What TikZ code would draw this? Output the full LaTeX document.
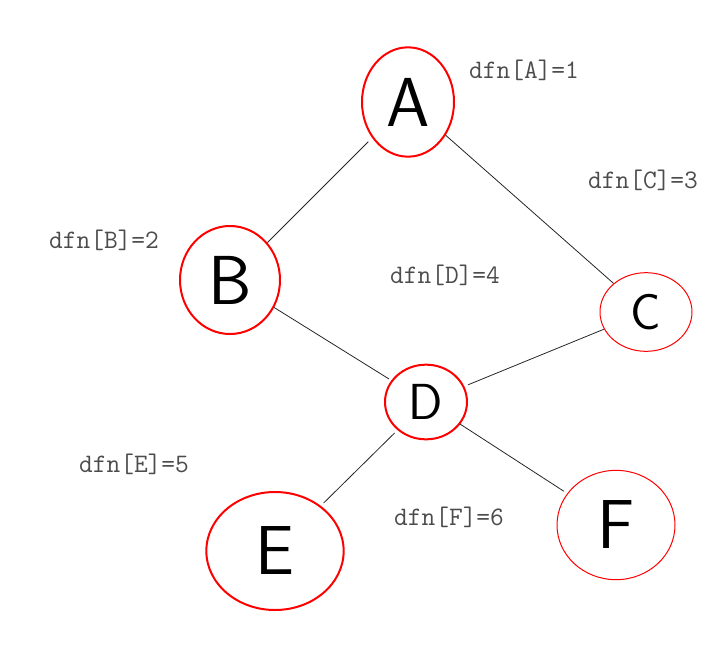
\documentclass[tikz,border=0pt]{standalone}
\usepackage{tikz}
\usetikzlibrary{shapes.geometric}

\tikzset{
    vert/.style={ellipse, draw=red, line width=1.5pt, inner sep=0pt,
        font=\sffamily\fontsize{52}{52}\selectfont},
    thinvert/.style={vert, line width=0.75pt},
    dfn/.style={text=black!70, font=\ttfamily\fontsize{20}{24}\selectfont},
    edge/.style={draw=black!85, line width=0.6pt}
}

\begin{document}
\begin{tikzpicture}[x=0.75pt,y=-0.75pt]
        \useasboundingbox (0,0) rectangle (728,657);
        % vertices
        \node[vert, minimum width=69pt, minimum height=82pt] (A) at (408,102) {A};
        \node[vert, minimum width=75pt, minimum height=81pt] (B) at (230,280) {B};
        \node[thinvert, minimum width=69pt, minimum height=59pt,
            font=\sffamily\fontsize{38}{38}\selectfont] (C) at (646,312) {C};
        \node[vert, minimum width=61.5pt, minimum height=56pt,
            font=\sffamily\fontsize{38}{38}\selectfont] (D) at (426,402) {D};
        \node[vert, minimum width=103pt, minimum height=88.5pt] (E) at (275,551) {E};
        \node[thinvert, minimum width=88.5pt, minimum height=82pt] (F) at (616,525) {F};
        % tree edges
        \draw[edge, shorten <=4pt] (A) -- (B);
        \draw[edge] (A) -- (C);
        \draw[edge, shorten >=2pt] (B) -- (D);
        \draw[edge, shorten >=3pt] (C) -- (D);
        \draw[edge, shorten <=3pt, shorten >=3pt] (D) -- (E);
        \draw[edge, shorten >=3pt] (D) -- (F);
        % dfn labels
        \node[dfn] (lA) at (524,70) {dfn[A]=1};
        \node[dfn] (lB) at (104,240) {dfn[B]=2};
        \node[dfn] (lC) at (643,180) {dfn[C]=3};
        \node[dfn] (lD) at (445,275) {dfn[D]=4};
        \node[dfn] (lE) at (134,464) {dfn[E]=5};
        \node[dfn] (lF) at (449,517) {dfn[F]=6};
\end{tikzpicture}
\end{document}
